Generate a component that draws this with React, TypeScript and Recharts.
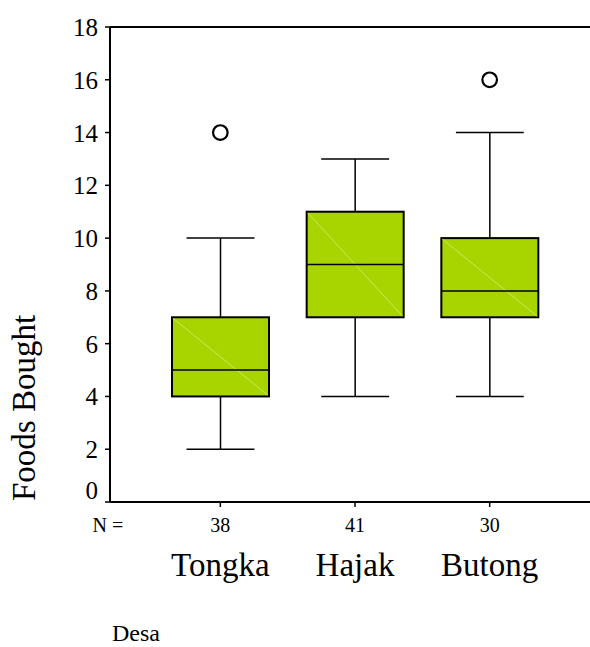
import { ComposedChart, Bar, Scatter, XAxis, YAxis, ReferenceLine } from 'recharts';

const villages = ['Tongka', 'Hajak', 'Butong'];
const counts = [38, 41, 30];
const whiskerLow = [2, 4, 4];
const quartile1 = [4, 7, 7];
const medians = [5, 9, 8];
const quartile3 = [7, 11, 10];
const whiskerHigh = [10, 13, 14];
const outliers = [14, null, 16];
const yTicks = [0, 2, 4, 6, 8, 10, 12, 14, 16, 18];

const data = villages.map((name, i) => ({
  name,
  n: counts[i],
  range: [whiskerLow[i], whiskerHigh[i]],
  lo: whiskerLow[i],
  q1: quartile1[i],
  median: medians[i],
  q3: quartile3[i],
  hi: whiskerHigh[i],
  outlier: outliers[i],
}));

const serif = '"Liberation Serif", "Times New Roman", serif';
const boxFill = '#a8d400';

const BoxShape = (props: any) => {
  const { x, y, width, height, payload } = props;
  const top = Math.min(y, y + height);
  const h = Math.abs(height);
  const { lo, hi, q1, q3, median } = payload;
  // linear scale, so interpolate inside the whisker span the library gave us
  const yPx = (v: number) => top + (h * (hi - v)) / (hi - lo);
  const cx = x + width / 2;
  const capHalf = width * 0.35;
  const boxTop = yPx(q3);
  const boxBottom = yPx(q1);
  return (
    <g>
      <line x1={cx} x2={cx} y1={yPx(hi)} y2={boxTop} stroke="#000" strokeWidth={1.5} />
      <line x1={cx} x2={cx} y1={boxBottom} y2={yPx(lo)} stroke="#000" strokeWidth={1.5} />
      <line x1={cx - capHalf} x2={cx + capHalf} y1={yPx(hi)} y2={yPx(hi)} stroke="#000" strokeWidth={1.5} />
      <line x1={cx - capHalf} x2={cx + capHalf} y1={yPx(lo)} y2={yPx(lo)} stroke="#000" strokeWidth={1.5} />
      <rect x={x} y={boxTop} width={width} height={boxBottom - boxTop} fill={boxFill} stroke="#000" strokeWidth={2} />
      <line x1={x + 1} y1={boxTop + 1} x2={x + width - 1} y2={boxBottom - 1} stroke="#d2ec7a" strokeWidth={0.8} />
      <line x1={x} x2={x + width} y1={yPx(median)} y2={yPx(median)} stroke="#000" strokeWidth={1.5} />
    </g>
  );
};

const OutlierDot = (props: any) => {
  const { cx, cy, payload } = props;
  if (payload.outlier == null) return <g />;
  return <circle cx={cx} cy={cy} r={7.3} fill="#fff" stroke="#000" strokeWidth={2.2} />;
};

const XTick = (props: any) => {
  const { x, y, index, payload } = props;
  return (
    <g style={{ fontFamily: serif }} fill="#000">
      {index === 0 && (
        <text x={x - 97} y={y + 23} textAnchor="end" fontSize={20} style={{ fontFamily: serif }}>
          N =
        </text>
      )}
      <text x={x} y={y + 23} textAnchor="middle" fontSize={20} style={{ fontFamily: serif }}>
        {counts[index]}
      </text>
      <text x={x} y={y + 67} textAnchor="middle" fontSize={33} style={{ fontFamily: serif }}>
        {payload.value}
      </text>
    </g>
  );
};

const YTick = (props: any) => {
  const { x, y, payload } = props;
  const shift = payload.value === 0 ? -12 : 0;
  return (
    <text
      x={x}
      y={y + shift}
      dy={9}
      textAnchor="end"
      fontSize={25}
      fill="#000"
      style={{ fontFamily: serif }}
    >
      {payload.value}
    </text>
  );
};

export default function App() {
  return (
    <div style={{ position: 'absolute', left: 0, top: 0, width: 590, height: 647, background: '#fff' }}>
      <ComposedChart
        width={590}
        height={647}
        data={data}
        margin={{ top: 27, right: 0, bottom: 115, left: 40 }}
      >
        <XAxis
          dataKey="name"
          height={30}
          padding={{ left: 43, right: 33 }}
          axisLine={{ stroke: '#000', strokeWidth: 2 }}
          tickLine={{ stroke: '#000', strokeWidth: 1.5 }}
          tickSize={5}
          tick={<XTick />}
          interval={0}
          label={{
            content: () => (
              <text x={112} y={641} fontSize={24} fill="#000" style={{ fontFamily: serif }}>
                Desa
              </text>
            ),
          }}
        />
        <YAxis
          type="number"
          domain={[0, 18]}
          ticks={yTicks}
          width={70}
          allowDataOverflow
          axisLine={{ stroke: '#000', strokeWidth: 2 }}
          tickLine={{ stroke: '#000', strokeWidth: 1.5 }}
          tickSize={5}
          tickMargin={7}
          tick={<YTick />}
          label={{
            content: () => (
              <text
                transform="translate(35, 408) rotate(-90)"
                textAnchor="middle"
                fontSize={33}
                fill="#000"
                style={{ fontFamily: serif }}
              >
                Foods Bought
              </text>
            ),
          }}
        />
        <ReferenceLine y={18} stroke="#000" strokeWidth={2} />
        <Bar dataKey="range" barSize={97} shape={<BoxShape />} isAnimationActive={false} />
        <Scatter dataKey="outlier" shape={<OutlierDot />} isAnimationActive={false} />
      </ComposedChart>
    </div>
  );
}
